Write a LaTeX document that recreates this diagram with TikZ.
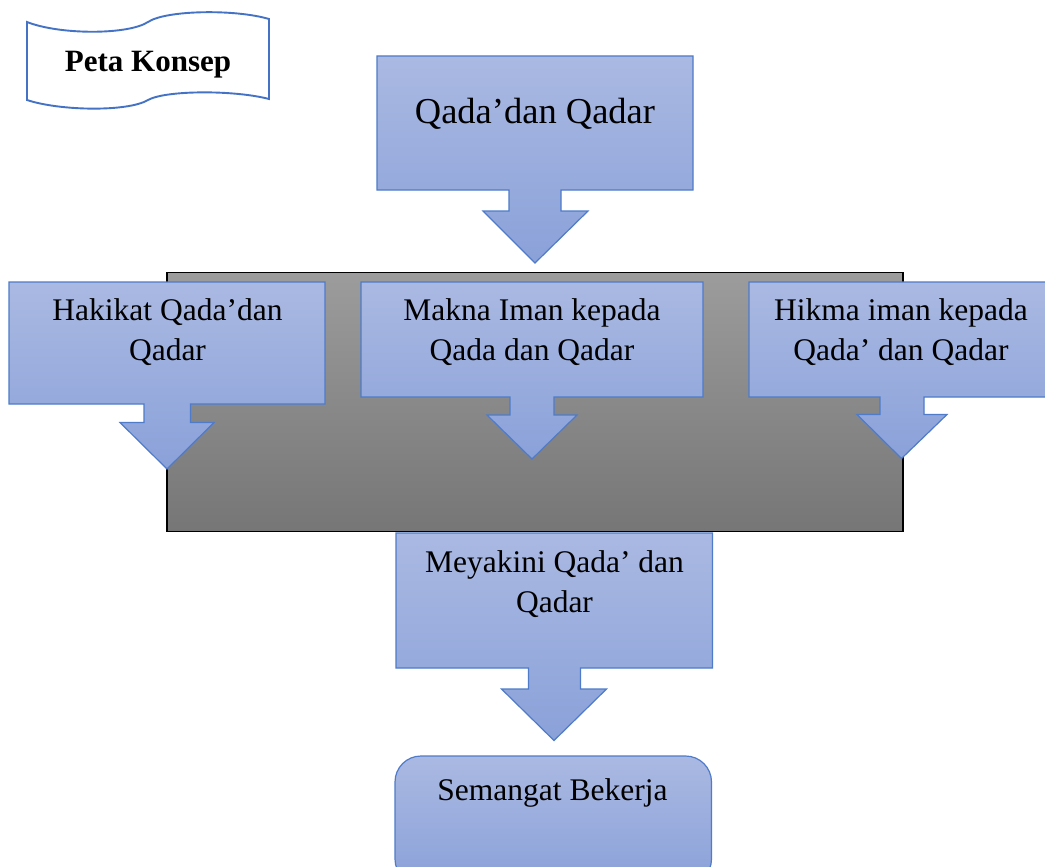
\documentclass[tikz,border=0pt]{standalone}
\usepackage{fontspec}
\setmainfont{Liberation Serif}
\definecolor{bluetop}{HTML}{AAB9E2}
\definecolor{bluebot}{HTML}{8AA1D9}
\definecolor{blueline}{HTML}{4F7BC9}
\definecolor{graytop}{HTML}{9C9C9C}
\definecolor{graybot}{HTML}{767676}
\definecolor{tapeline}{HTML}{4472C4}
\tikzset{
  callout/.style={draw=blueline, line width=1.2pt, top color=bluetop, bottom color=bluebot, line join=miter},
  panel/.style={draw=black, line width=1.2pt, top color=graytop, bottom color=graybot},
  tape/.style={draw=tapeline, line width=1.9pt, fill=white},
  lbl/.style={anchor=base, align=center, inner sep=0pt, font=\fontsize{31.5}{39.5}\selectfont},
  biglbl/.style={anchor=base, inner sep=0pt, font=\fontsize{36.5}{44}\selectfont},
  titlelbl/.style={anchor=base, inner sep=0pt, font=\fontsize{31}{37}\selectfont\bfseries},
}
\begin{document}
\begin{tikzpicture}[x=1pt,y=-1pt]
\clip (0,0) rectangle (1045,867);
\fill[white] (0,0) rectangle (1045,867);
% title tape
\path[tape] (27,22) .. controls (60,35) and (128,35) .. (148,22)
  .. controls (166,10) and (235,9) .. (269,19) -- (269,99)
  .. controls (235,90) and (166,90) .. (148,100)
  .. controls (128,112) and (60,111) .. (27,100) -- cycle;
\node[titlelbl] (title) at (148,71.5) {Peta Konsep};
% grey panel
\path[panel] (167,272.5) rectangle (903,531.5);
% main callout
\path[callout] (377,56) -- (693,56) -- (693,190) -- (561,190) -- (561,211) -- (588,211)
  -- (535,263) -- (483,211) -- (509,211) -- (509,190) -- (377,190) -- cycle;
\node[biglbl] (qada) at (535,123) {Qada’dan Qadar};
% Hakikat
\path[callout] (9,282) -- (325,282) -- (325,404) -- (190.5,404) -- (190.5,422.5) -- (214,422.5)
  -- (167,469) -- (120,422.5) -- (144,422.5) -- (144,404) -- (9,404) -- cycle;
\node[lbl] (hakikat) at (167.5,360) {Hakikat Qada’dan\\Qadar};
% Makna
\path[callout] (361,282) -- (703,282) -- (703,397) -- (554,397) -- (554,415) -- (577,415)
  -- (532,459) -- (487,415) -- (510,415) -- (510,397) -- (361,397) -- cycle;
\node[lbl] (makna) at (532,360) {Makna Iman kepada\\Qada dan Qadar};
% Hikma
\path[callout] (749,282) -- (1053,282) -- (1053,397) -- (924,397) -- (924,414.5) -- (947,414.5)
  -- (901.5,458.5) -- (857,414.5) -- (880,414.5) -- (880,397) -- (749,397) -- cycle;
\node[lbl] (hikma) at (901,360) {Hikma iman kepada\\Qada’ dan Qadar};
% Meyakini
\path[callout] (396,533) -- (712.5,533) -- (712.5,668) -- (580.5,668) -- (580.5,689) -- (606.5,689)
  -- (554,740.5) -- (501.5,689) -- (528.5,689) -- (528.5,668) -- (396,668) -- cycle;
\node[lbl, font=\fontsize{31.5}{40}\selectfont] (meyakini) at (554.5,612.5) {Meyakini Qada’ dan\\Qadar};
% Semangat
\path[callout, rounded corners=26pt] (395,756) rectangle (711.5,885);
\node[lbl] (semangat) at (552.5,800) {Semangat Bekerja};
\end{tikzpicture}
\end{document}
